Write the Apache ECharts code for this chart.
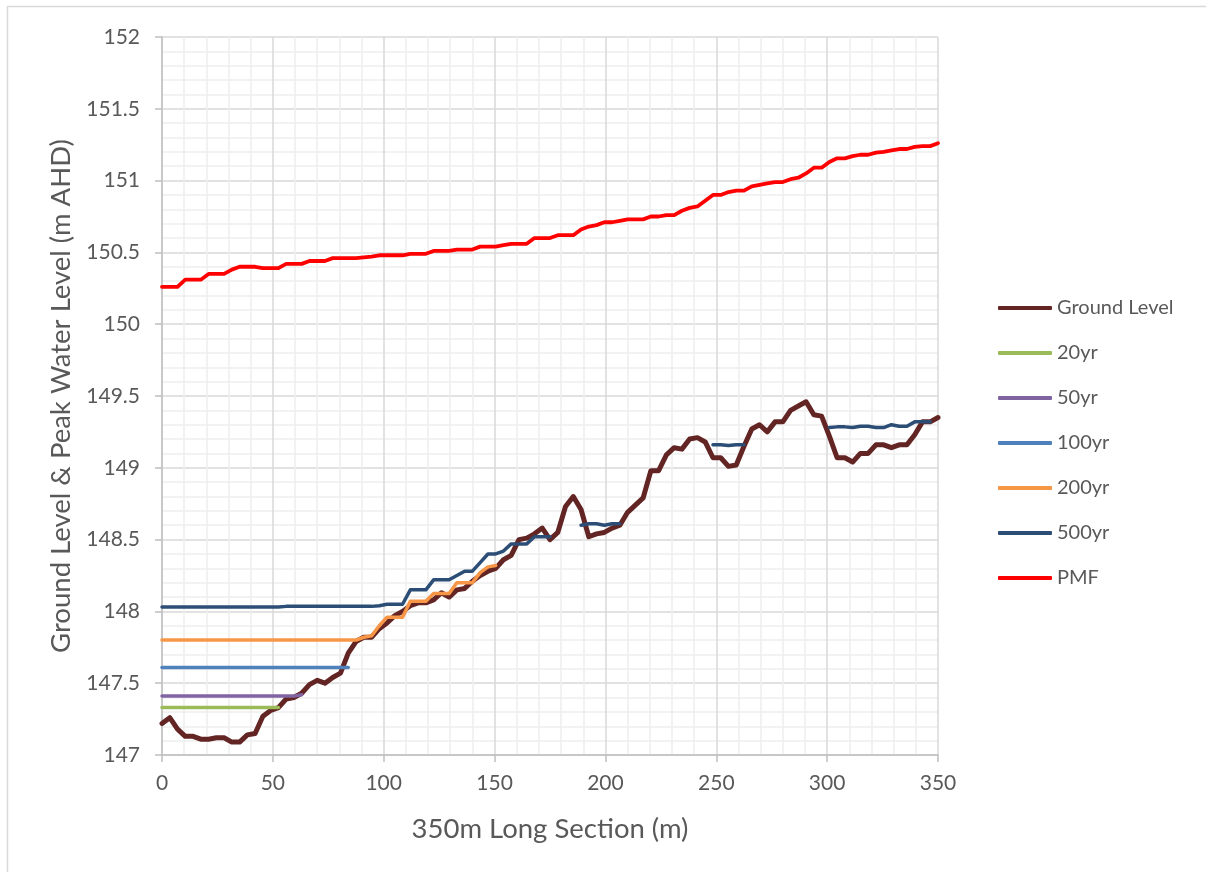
<!DOCTYPE html>
<html>
<head>
<meta charset="utf-8">
<script src="https://cdn.jsdelivr.net/npm/echarts@6/dist/echarts.min.js"></script>
<style>html,body{margin:0;padding:0;background:#fff}#c{width:1206px;height:872px}</style>
</head>
<body>
<div id="c"></div>
<script>
// Chainage along long section (m)
const chainage = [0,3.5,7,10.5,14,17.5,21,24.5,28,31.5,35,38.5,42,45.5,49,52.5,56,59.5,63,66.5,70,73.5,77,80.5,84,87.5,91,94.5,98,101.5,105,108.5,112,115.5,119,122.5,126,129.5,133,136.5,140,143.5,147,150.5,154,157.5,161,164.5,168,171.5,175,178.5,182,185.5,189,192.5,196,199.5,203,206.5,210,213.5,217,220.5,224,227.5,231,234.5,238,241.5,245,248.5,252,255.5,259,262.5,266,269.5,273,276.5,280,283.5,287,290.5,294,297.5,301,304.5,308,311.5,315,318.5,322,325.5,329,332.5,336,339.5,343,346.5,350];

const groundLevel = [147.22,147.26,147.18,147.13,147.13,147.11,147.11,147.12,147.12,147.09,
147.09,147.14,147.15,147.27,147.31,147.33,147.39,147.40,147.43,147.49,
147.52,147.50,147.54,147.57,147.71,147.79,147.82,147.82,147.88,147.92,
147.97,148.00,148.04,148.06,148.06,148.08,148.13,148.10,148.15,148.16,
148.21,148.25,148.28,148.30,148.36,148.39,148.50,148.51,148.54,148.58,
148.50,148.55,148.73,148.80,148.71,148.52,148.54,148.55,148.58,148.60,
148.69,148.74,148.79,148.98,148.98,149.09,149.14,149.13,149.20,149.21,
149.18,149.07,149.07,149.01,149.02,149.15,149.27,149.30,149.25,149.32,
149.32,149.40,149.43,149.46,149.37,149.36,149.22,149.07,149.07,149.04,
149.10,149.10,149.16,149.16,149.14,149.16,149.16,149.23,149.32,149.32,
149.35];

const yr20 = [147.33,147.33,147.33,147.33,147.33,147.33,147.33,147.33,147.33,147.33,147.33,147.33,147.33,147.33,147.33,147.33];

const yr50 = [147.41,147.41,147.41,147.41,147.41,147.41,147.41,147.41,147.41,147.41,147.41,147.41,147.41,147.41,147.41,147.41,147.41,147.41,147.42];

const yr100 = [147.61,147.61,147.61,147.61,147.61,147.61,147.61,147.61,147.61,147.61,147.61,147.61,147.61,147.61,147.61,147.61,147.61,147.61,147.61,147.61,147.61,147.61,147.61,147.61,147.61];

const yr200 = [147.80,147.80,147.80,147.80,147.80,147.80,147.80,147.80,147.80,147.80,
147.80,147.80,147.80,147.80,147.80,147.80,147.80,147.80,147.80,147.80,
147.80,147.80,147.80,147.80,147.80,147.80,147.82,147.83,147.90,147.96,
147.96,147.96,148.07,148.07,148.07,148.125,148.125,148.125,148.20,148.20,
148.20,148.27,148.31,148.32];

const yr500 = [148.03,148.03,148.03,148.03,148.03,148.03,148.03,148.03,148.03,148.03,
148.03,148.03,148.03,148.03,148.03,148.03,148.035,148.035,148.035,148.035,
148.035,148.035,148.035,148.035,148.035,148.035,148.035,148.035,148.04,148.05,
148.05,148.05,148.15,148.15,148.15,148.22,148.22,148.22,148.25,148.28,
148.28,148.34,148.40,148.40,148.42,148.47,148.47,148.47,148.52,148.52,
148.52,null,null,null,148.60,148.61,148.61,148.60,148.61,148.61,
null,null,null,null,null,null,null,null,null,null,
null,149.16,149.16,149.155,149.16,149.16,null,null,null,null,
null,null,null,null,null,null,149.28,149.285,149.285,149.28,
149.29,149.29,149.28,149.28,149.30,149.29,149.29,149.32,149.32,149.32];

const pmf = [150.26,150.26,150.26,150.31,150.31,150.31,150.35,150.35,150.35,150.38,
150.40,150.40,150.40,150.39,150.39,150.39,150.42,150.42,150.42,150.44,
150.44,150.44,150.46,150.46,150.46,150.46,150.465,150.47,150.48,150.48,
150.48,150.48,150.49,150.49,150.49,150.51,150.51,150.51,150.52,150.52,
150.52,150.54,150.54,150.54,150.55,150.56,150.56,150.56,150.60,150.60,
150.60,150.62,150.62,150.62,150.66,150.68,150.69,150.71,150.71,150.72,
150.73,150.73,150.73,150.75,150.75,150.76,150.76,150.79,150.81,150.82,
150.86,150.90,150.90,150.92,150.93,150.93,150.96,150.97,150.98,150.99,
150.99,151.01,151.02,151.05,151.09,151.09,151.13,151.155,151.155,151.17,
151.18,151.18,151.195,151.20,151.21,151.22,151.22,151.235,151.24,151.24,
151.26];

const seriesNames = ['Ground Level','20yr','50yr','100yr','200yr','500yr','PMF'];
const seriesValues = [groundLevel, yr20, yr50, yr100, yr200, yr500, pmf];
const seriesColors = ['#632523','#9BBB59','#8064A2','#4F81BD','#F79646','#2C4D75','#FF0000'];
const seriesWidths = [5,3.5,3.5,3.5,3.5,3.5,3.8];

const FONT = 'Lato';
const TXT = '#595959';

const series = seriesNames.map((name, k) => ({
  name: name,
  type: 'line',
  symbol: 'none',
  smooth: false,
  connectNulls: false,
  animation: false,
  lineStyle: { color: seriesColors[k], width: seriesWidths[k], cap: 'round', join: 'round' },
  itemStyle: { color: seriesColors[k] },
  data: seriesValues[k].map((v, i) => [chainage[i], v == null ? '-' : v])
}));

const chart = echarts.init(document.getElementById('c'), null, { renderer: 'canvas' });
chart.setOption({
  backgroundColor: '#ffffff',
  animation: false,
  textStyle: { fontFamily: FONT },
  grid: { left: 162, right: 268, top: 37, bottom: 117, containLabel: false },
  legend: {
    orient: 'vertical',
    left: 993,
    top: 292,
    icon: 'roundRect',
    itemWidth: 54,
    itemHeight: 4,
    itemGap: 23,
    textStyle: { color: TXT, fontSize: 20, fontFamily: FONT, lineHeight: 22 },
    data: seriesNames
  },
  xAxis: {
    type: 'value',
    min: 0, max: 350, interval: 50,
    name: '350m Long Section (m)',
    nameLocation: 'middle',
    nameGap: 60,
    nameTextStyle: { color: TXT, fontSize: 27.5, fontFamily: FONT },
    axisLine: { show: true, onZero: false, lineStyle: { color: '#BFBFBF', width: 1.5 } },
    axisTick: { show: true, length: 7, lineStyle: { color: '#BFBFBF', width: 1.5 } },
    axisLabel: { color: TXT, fontSize: 21, margin: 18, fontFamily: FONT },
    splitLine: { show: true, lineStyle: { color: '#D9D9D9', width: 1.5 } },
    minorTick: { show: false, splitNumber: 5 },
    minorSplitLine: { show: true, lineStyle: { color: '#EEEEEE', width: 1.5 } }
  },
  yAxis: {
    type: 'value',
    min: 147, max: 152, interval: 0.5,
    name: 'Ground Level & Peak Water Level (m AHD)',
    nameLocation: 'middle',
    nameGap: 86,
    nameTextStyle: { color: TXT, fontSize: 27.5, fontFamily: FONT },
    axisLine: { show: true, lineStyle: { color: '#BFBFBF', width: 1.5 } },
    axisTick: { show: true, length: 7, lineStyle: { color: '#BFBFBF', width: 1.5 } },
    axisLabel: { color: TXT, fontSize: 21, margin: 22, fontFamily: FONT },
    splitLine: { show: true, lineStyle: { color: '#D9D9D9', width: 1.5 } },
    minorTick: { show: false, splitNumber: 5 },
    minorSplitLine: { show: true, lineStyle: { color: '#EEEEEE', width: 1.5 } }
  },
  graphic: [
    { type: 'line', shape: { x1: 7.5, y1: 6, x2: 7.5, y2: 872 }, style: { stroke: '#D9D9D9', lineWidth: 1.5 }, silent: true },
    { type: 'line', shape: { x1: 7, y1: 6.5, x2: 1206, y2: 6.5 }, style: { stroke: '#D9D9D9', lineWidth: 1.5 }, silent: true }
  ],
  series: series
});
</script>
</body>
</html>
